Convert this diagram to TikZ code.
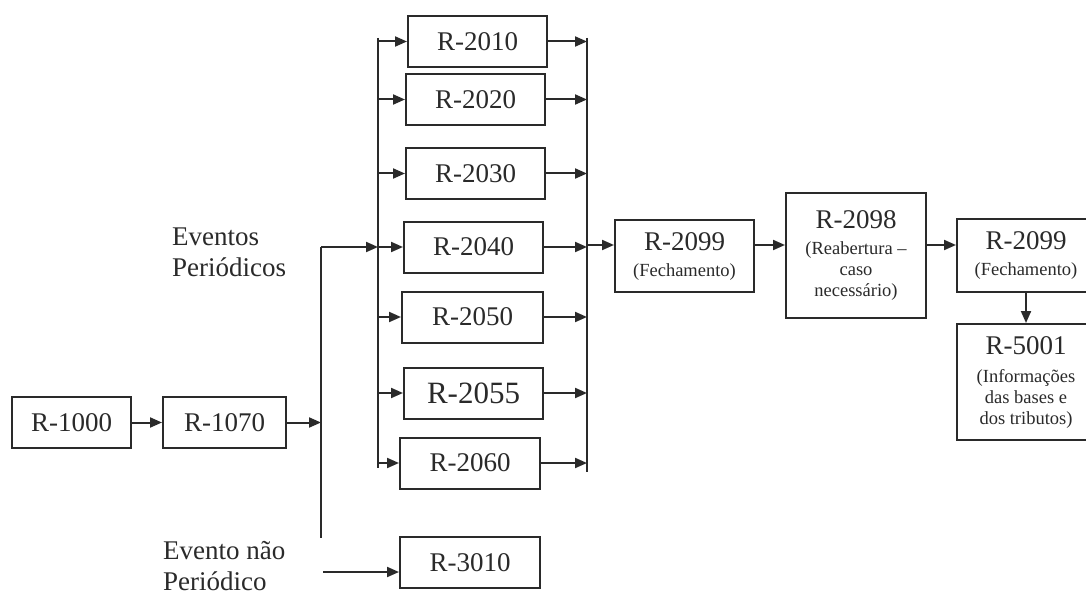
\documentclass[tikz,border=0pt]{standalone}
\usepackage{fontspec}
\setmainfont{Liberation Serif}
\usepackage{tikz}
\usetikzlibrary{positioning, arrows.meta, calc}
\definecolor{inkgray}{HTML}{2A2A2A}

\tikzset{
  regbox/.style={draw=inkgray, line width=2pt, text=inkgray, inner sep=0pt,
    align=center, minimum width=140pt, minimum height=51pt,
    font=\fontsize{27}{30}\selectfont},
  flow/.style={draw=inkgray, line width=2pt, -{Triangle[length=12pt,width=10pt]}},
  rail/.style={draw=inkgray, line width=2pt},
  sidetext/.style={text=inkgray, align=left, inner sep=0pt, anchor=north west,
    font=\fontsize{27}{31}\selectfont}
}
\newcommand{\subsize}{\fontsize{18.5}{21}\selectfont}

\begin{document}
\begin{tikzpicture}[x=1pt, y=-1pt]
    \clip (0,0) rectangle (1086,604);
    \fill[white] (0,0) rectangle (1086,604);

    \node[regbox, minimum width=119pt] (r1000) at (71.5,422.5) {R-1000};
    \node[regbox, minimum width=123pt] (r1070) at (224.5,422.5) {R-1070};

    \node[regbox, minimum width=139pt] (r2010) at (477.5,41.5) {R-2010};
    \node[regbox, minimum width=139pt] (r2020) at (475.5,99.5) {R-2020};
    \node[regbox, minimum width=139pt] (r2030) at (475.5,173.5) {R-2030};
    \node[regbox, minimum width=139pt] (r2040) at (473.5,247) {R-2040};
    \node[regbox, minimum width=141pt] (r2050) at (472.5,317) {R-2050};
    \node[regbox, minimum width=139pt, font=\fontsize{31}{34}\selectfont] (r2055) at (473.5,393) {R-2055};
    \node[regbox] (r2060) at (470,463) {R-2060};
    \node[regbox] (r3010) at (470,562.5) {R-3010};

    \node[regbox, minimum width=139pt, minimum height=72pt] (r2099a) at (684.5,256)
      {R-2099\\[-4pt]\subsize (Fechamento)};
    \node[regbox, minimum height=125pt] (r2098) at (856,255.5)
      {R-2098\\[-4pt]\subsize (Reabertura --\\[-9pt]\subsize caso\\[-9pt]\subsize necessário)};
    \node[regbox, minimum width=138pt, minimum height=73pt] (r2099b) at (1026,255.5)
      {R-2099\\[-4pt]\subsize (Fechamento)};
    \node[regbox, minimum width=138pt, minimum height=116pt] (r5001) at (1026,382)
      {R-5001\\[-2pt]\subsize (Informações\\[-9pt]\subsize das bases e\\[-9pt]\subsize dos tributos)};

    \node[sidetext] (periodic) at (172,228) {Eventos\\Periódicos};
    \node[sidetext] (nonperiodic) at (163,541) {Evento não\\Periódico};

    \coordinate (dtop) at (378,38);
    \coordinate (dbot) at (378,468);
    \coordinate (ctop) at (587,38);
    \coordinate (cbot) at (587,472);
    \coordinate (ftop) at (321,247);
    \coordinate (fbot) at (321,538);
    \coordinate (nstart) at (323,572);
    \coordinate (mid) at (587,245);

    \draw[rail] (dtop) -- (dbot);
    \draw[rail] (ctop) -- (cbot);
    \draw[rail] (ftop) -- (fbot);

    \draw[flow] (r1000) -- (r1070);
    \draw[flow] (r1070.east) -- (r1070.east -| ftop);
    \draw[flow] (ftop) -- (ftop -| dtop);

    \foreach \reg in {r2010, r2020, r2030, r2040, r2050, r2055, r2060}{
      \draw[flow] (\reg.west -| dtop) -- (\reg.west);
      \draw[flow] (\reg.east) -- (\reg.east -| ctop);
    }

    \draw[flow] (nstart) -- (nstart -| r3010.west);

    \draw[flow] (mid) -- (mid -| r2099a.west);
    \draw[flow] (r2099a.east |- mid) -- (r2098.west |- mid);
    \draw[flow] (r2098.east |- mid) -- (r2099b.west |- mid);
    \draw[flow] (r2099b.south) -- (r5001.north);
  \end{tikzpicture}
\end{document}
